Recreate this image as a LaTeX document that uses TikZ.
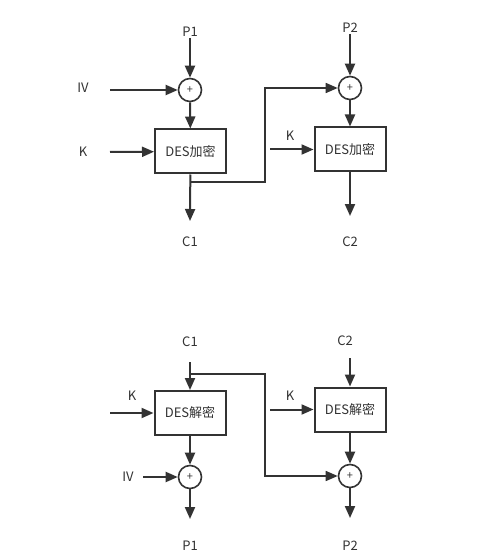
\documentclass[tikz,border=0pt]{standalone}
\usepackage{fontspec}
\setmainfont{Noto Sans CJK SC}
\usepackage{tikz}
\usetikzlibrary{
  arrows.meta,
  positioning
}
\definecolor{desLine}{HTML}{333333}
\definecolor{desText}{HTML}{333333}
\tikzset{
  desnode/.style={
    draw=desLine, line width=2pt, minimum width=71pt, minimum height=44pt,
    font=\fontsize{13}{15}\selectfont, text=desText
  },
  xorop/.style={draw=desLine, circle, line width=1.6pt, minimum size=23pt, inner sep=0pt,
    font=\fontsize{11}{12}\selectfont, text=desText},
  lbl/.style={font=\fontsize{13}{15}\selectfont, text=desText, inner sep=1pt},
  flow/.style={-{Triangle[length=12pt, width=10pt]}, line width=2pt, desLine},
  chain/.style={flow, line width=1.6pt}
}
\begin{document}
\begin{tikzpicture}[x=1pt, y=-1pt]
  \fill[white] (0,0) rectangle (499,553);
  \useasboundingbox (0,0) rectangle (499,553);
  \node[lbl] (p1) at (190,32) {P1};
  \node[xorop] (x1) at (190,90) {+};
  \node[desnode] (e1) at (190.5,151.5) {DES加密};
  \node[lbl] (iv1) at (83,88) {IV};
  \node[lbl] (k1) at (83,152) {K};
  \coordinate (iv1in) at (110,90);
  \coordinate (k1in) at (110,152);
  \coordinate (c1out) at (190,221);
  \node[lbl] (c1) at (190,242) {C1};
  \coordinate (t1) at (190,182);
  \coordinate (j1) at (265,182);
  \node[lbl] (p2) at (350,28) {P2};
  \node[xorop] (x2) at (350,88) {+};
  \node[desnode] (e2) at (350,149.5) {DES加密};
  \node[lbl] (k2) at (290,136) {K};
  \coordinate (k2in) at (270,149.5);
  \coordinate (c2out) at (350,216);
  \node[lbl] (c2) at (350,242) {C2};
  \draw[flow] (p1) -- (x1);
  \draw[flow] (iv1in) -- (x1);
  \draw[flow] (x1) -- (e1);
  \draw[flow] (k1in) -- (e1);
  \draw[flow] (e1) -- (c1out);
  \draw[chain] (t1) -- (j1) |- (x2);
  \draw[flow] (p2) -- (x2);
  \draw[flow] (x2) -- (e2);
  \draw[flow] (k2in) -- (e2);
  \draw[flow] (e2) -- (c2out);
  \node[lbl] (c1b) at (190,342) {C1};
  \coordinate (c1in) at (190,362);
  \node[desnode] (d1) at (190,413) {DES解密};
  \node[lbl] (k3) at (132,396) {K};
  \coordinate (k3in) at (110,413);
  \node[xorop] (x3) at (190,477) {+};
  \node[lbl] (iv3) at (128,477) {IV};
  \coordinate (iv3in) at (143,477);
  \coordinate (p1out) at (190,519);
  \node[lbl] (p1b) at (190,546) {P1};
  \coordinate (t3) at (190,374);
  \coordinate (j3) at (265,374);
  \node[lbl] (c2b) at (345,341) {C2};
  \coordinate (c2in) at (350,358);
  \node[desnode] (d2) at (350,409.5) {DES解密};
  \node[lbl] (k4) at (290,396) {K};
  \coordinate (k4in) at (270,409.5);
  \node[xorop] (x4) at (350,476) {+};
  \coordinate (p2out) at (350,518);
  \node[lbl] (p2b) at (350,546) {P2};
  \draw[flow] (c1in) -- (d1);
  \draw[chain] (t3) -- (j3) |- (x4);
  \draw[flow] (k3in) -- (d1);
  \draw[flow] (d1) -- (x3);
  \draw[flow] (iv3in) -- (x3);
  \draw[flow] (x3) -- (p1out);
  \draw[flow] (c2in) -- (d2);
  \draw[flow] (k4in) -- (d2);
  \draw[flow] (d2) -- (x4);
  \draw[flow] (x4) -- (p2out);
\end{tikzpicture}
\end{document}
